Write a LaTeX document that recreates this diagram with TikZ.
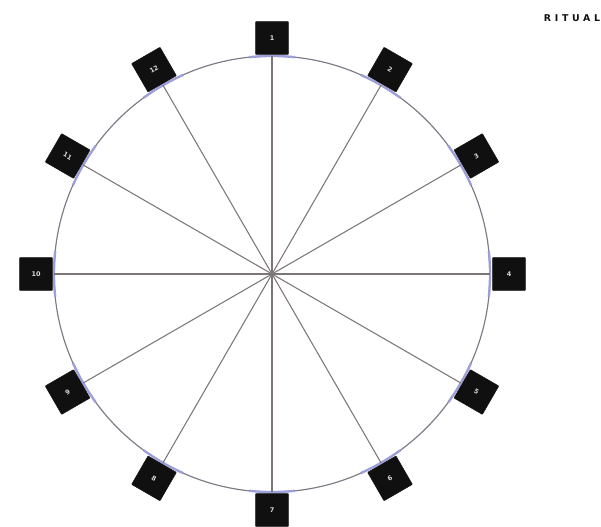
\documentclass[tikz,border=0pt]{standalone}
\usepackage{fontspec}
\newfontfamily\ritualfont[LetterSpace=40]{DejaVu Sans}
\newfontfamily\seatfont{DejaVu Sans}
\usetikzlibrary{positioning}
\definecolor{rtink}{HTML}{101010}
\definecolor{rtline}{HTML}{7C7579}
\definecolor{rtrim}{HTML}{7E7A86}
\definecolor{rtmark}{HTML}{9C9FDA}
\tikzset{
  rtseat/.style={
    draw=rtink, fill=rtink, minimum width=28, minimum height=28,
    inner sep=0pt, text=white!85!black, rounded corners=0.5pt,
    font=\seatfont\bfseries\fontsize{5.5}{5.5}\selectfont},
  rtspoke/.style={draw=rtline, line width=0.9pt},
  rtcircle/.style={draw=rtrim, line width=1pt},
  rtmark/.style={draw=rtmark, line width=2pt},
  rttag/.style={anchor=center, text=rtink,
    font=\ritualfont\bfseries\fontsize{8}{8}\selectfont},
}

\begin{document}
\begin{tikzpicture}[x=0.03cm, y=0.03cm]

\useasboundingbox (0, 0) rectangle (601, -526);

% Hub and rim.
\coordinate (hub) at (272, -274);
\draw[rtcircle] (hub) circle[radius=218];

% Marks on the rim under each seat.
\draw[rtmark] ([shift={(84:218)}]hub) arc[start angle=84, end angle=96, radius=218];
\draw[rtmark] ([shift={(54:218)}]hub) arc[start angle=54, end angle=66, radius=218];
\draw[rtmark] ([shift={(24:218)}]hub) arc[start angle=24, end angle=36, radius=218];
\draw[rtmark] ([shift={(-6:218)}]hub) arc[start angle=-6, end angle=6, radius=218];
\draw[rtmark] ([shift={(-36:218)}]hub) arc[start angle=-36, end angle=-24, radius=218];
\draw[rtmark] ([shift={(-66:218)}]hub) arc[start angle=-66, end angle=-54, radius=218];
\draw[rtmark] ([shift={(-96:218)}]hub) arc[start angle=-96, end angle=-84, radius=218];
\draw[rtmark] ([shift={(-126:218)}]hub) arc[start angle=-126, end angle=-114, radius=218];
\draw[rtmark] ([shift={(-156:218)}]hub) arc[start angle=-156, end angle=-144, radius=218];
\draw[rtmark] ([shift={(174:218)}]hub) arc[start angle=174, end angle=186, radius=218];
\draw[rtmark] ([shift={(144:218)}]hub) arc[start angle=144, end angle=156, radius=218];
\draw[rtmark] ([shift={(114:218)}]hub) arc[start angle=114, end angle=126, radius=218];

% Points where the spokes meet the rim.
\coordinate (rim1) at ([shift={(90:218)}]hub);
\coordinate (rim2) at ([shift={(60:218)}]hub);
\coordinate (rim3) at ([shift={(30:218)}]hub);
\coordinate (rim4) at ([shift={(0:218)}]hub);
\coordinate (rim5) at ([shift={(-30:218)}]hub);
\coordinate (rim6) at ([shift={(-60:218)}]hub);
\coordinate (rim7) at ([shift={(-90:218)}]hub);
\coordinate (rim8) at ([shift={(-120:218)}]hub);
\coordinate (rim9) at ([shift={(-150:218)}]hub);
\coordinate (rim10) at ([shift={(180:218)}]hub);
\coordinate (rim11) at ([shift={(150:218)}]hub);
\coordinate (rim12) at ([shift={(120:218)}]hub);

% Spokes.
\draw[rtspoke] (hub) -- (rim1);
\draw[rtspoke] (hub) -- (rim2);
\draw[rtspoke] (hub) -- (rim3);
\draw[rtspoke] (hub) -- (rim4);
\draw[rtspoke] (hub) -- (rim5);
\draw[rtspoke] (hub) -- (rim6);
\draw[rtspoke] (hub) -- (rim7);
\draw[rtspoke] (hub) -- (rim8);
\draw[rtspoke] (hub) -- (rim9);
\draw[rtspoke] (hub) -- (rim10);
\draw[rtspoke] (hub) -- (rim11);
\draw[rtspoke] (hub) -- (rim12);

% Seats round the rim.
\node[rtseat] (seat1) at ([shift={(90:236)}]hub) {1};
\node[rtseat, rotate=-30] (seat2) at ([shift={(60:236)}]hub) {2};
\node[rtseat, rotate=30] (seat3) at ([shift={(30:236)}]hub) {3};
\node[rtseat] (seat4) at ([shift={(0:237)}]hub) {4};
\node[rtseat, rotate=-30] (seat5) at ([shift={(-30:236)}]hub) {5};
\node[rtseat, rotate=30] (seat6) at ([shift={(-60:236)}]hub) {6};
\node[rtseat] (seat7) at ([shift={(-90:236)}]hub) {7};
\node[rtseat, rotate=-30] (seat8) at ([shift={(-120:236)}]hub) {8};
\node[rtseat, rotate=30] (seat9) at ([shift={(-150:236)}]hub) {9};
\node[rtseat] (seat10) at ([shift={(180:236)}]hub) {10};
\node[rtseat, rotate=-30] (seat11) at ([shift={(150:236)}]hub) {11};
\node[rtseat, rotate=30] (seat12) at ([shift={(120:236)}]hub) {12};

% Tag.
\node[rttag] (tag) at (572, -18.5) {RITUAL};

\end{tikzpicture}
\end{document}
